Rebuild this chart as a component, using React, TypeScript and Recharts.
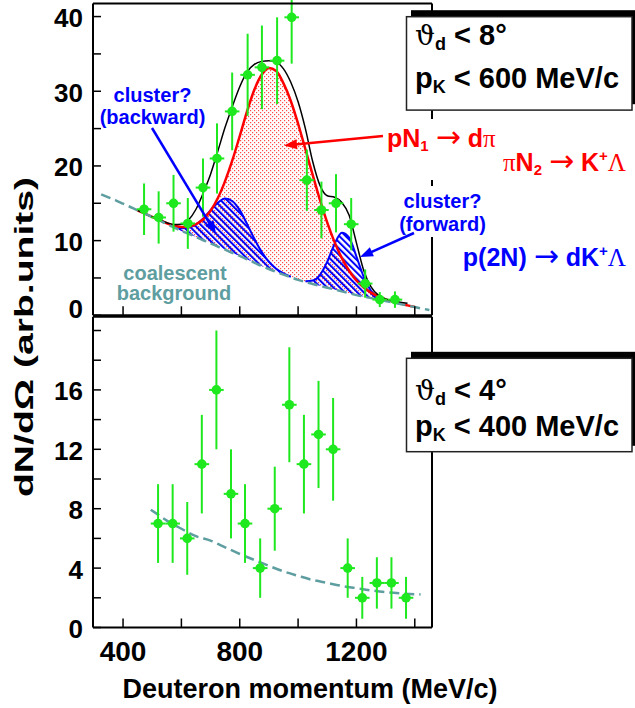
import React from 'react';
import { ComposedChart, Area, Line, Scatter, XAxis, YAxis, ErrorBar } from 'recharts';

const SANS = '"Liberation Sans", Arial, Helvetica, sans-serif';
const SERIF = '"DejaVu Serif", "Liberation Serif", serif';
const SYM = '"Liberation Serif", "DejaVu Serif", serif';
const ARROWFONT = '"DejaVu Sans", "Liberation Sans", sans-serif';

const GREEN = '#1ee81e';
const TEAL = '#5f9ea0';
const RED = '#ff0000';
const BLUE = '#0000ff';

// ---------- axes ----------
const xDomain = [297, 1459];
const xTicks = [400, 600, 800, 1000, 1200, 1400];
const xTickLabels = [400, 800, 1200];
const upperYDomain = [0, 41.75];
const upperYTicks = [0, 5, 10, 15, 20, 25, 30, 35, 40];
const upperYLabels = [0, 10, 20, 30, 40];
const lowerYDomain = [0, 20.93];
const lowerYTicks = [0, 2, 4, 6, 8, 10, 12, 14, 16, 18, 20];
const lowerYLabels = [0, 4, 8, 12, 16];

const binHalfWidth = 25;

// ---------- upper panel: data points ----------
const upperMomentum = [472, 522, 573, 622, 674, 722, 774, 827, 876, 928, 978, 1030, 1080, 1130, 1182, 1230, 1280, 1332];
const upperCounts = [14.2, 13.1, 15.0, 12.3, 17.1, 21.0, 27.3, 32.2, 33.2, 34.1, 39.9, 18.1, 14.1, 15.0, 12.2, 4.25, 2.1, 2.1];
const upperErrors = [3.45, 3.5, 3.8, 3.4, 3.9, 4.7, 5.2, 5.5, 5.6, 5.8, 6.2, 4.1, 3.8, 3.9, 3.5, 1.9, 1.0, 1.1];

// ---------- upper panel: fitted curves ----------
const gridX = [325, 350, 375, 400, 425, 450, 475, 500, 525, 550, 575, 600, 625, 650, 675, 700, 725, 750, 775, 800,
  825, 850, 875, 900, 925, 950, 975, 1000, 1025, 1050, 1075, 1100, 1125, 1150, 1175, 1200, 1225, 1250, 1275, 1300,
  1325, 1350, 1375, 1400, 1425, 1450];
const coalescentBg = [16.2, 15.8, 15.4, 14.95, 14.5, 14.05, 13.6, 13.15, 12.7, 12.2, 11.75, 11.3, 10.9, 10.5, 10.05, 9.65,
  9.2, 8.8, 8.35, 7.95, 7.5, 7.05, 6.6, 6.2, 5.8, 5.45, 5.1, 4.75, 4.45, 4.2, 3.95, 3.7, 3.45, 3.2, 2.95, 2.7, 2.5, 2.3,
  2.1, 1.9, 1.7, 1.5, 1.3, 1.1, 0.9, 0.72];
const pN1Fit = [null, null, null, null, null,
  14.05, 13.61, 13.18, 12.76, 12.33, 12.02, 11.82, 11.86, 12.19, 12.86, 14.0, 15.7, 18.0, 20.8, 24.0,
  27.3, 30.2, 32.2, 33.1, 32.7, 31.05, 28.7, 25.65, 22.25, 18.8, 15.45, 12.4, 9.8, 7.66, 5.97, 4.66,
  3.72, 3.03, 2.52, 2.14, 1.83, 1.56, 1.33, 1.11, null, null];
const totalFit = [null, null, null, null, null,
  14.05, 13.61, 13.18, 12.8, 12.4, 12.16, 12.19, 12.8, 14.2, 16.4, 18.9, 22.0, 25.2, 28.0, 30.6,
  32.6, 33.6, 34.0, 34.1, 33.9, 33.0, 31.2, 28.6, 25.0, 20.6, 17.4, 16.0, 15.8, 15.1, 13.4, 9.7,
  6.0, 3.8, 2.7, 2.2, 1.95, 1.75, 1.6, null, null, null];
const backwardTop = [null, null, null, null, null, null, null, null, null, null,
  11.89, 11.67, 11.74, 12.17, 12.97, 14.08, 15.09, 15.63, 15.27, 14.08, 12.24, 10.25, 8.49, 7.17, 6.24, 5.62, 5.16,
  null, null, null, null, null, null, null, null, null, null, null, null, null, null, null, null, null, null, null];
const forwardTop = [null, null, null, null, null, null, null, null, null, null, null, null, null, null, null, null,
  null, null, null, null, null, null, null, null, null, null, null, null,
  4.55, 4.65, 5.41, 7.19, 9.56, 11.07, 10.4, 7.87, 5.14, 3.29, 2.37, 1.96,
  null, null, null, null, null, null];

// ---------- lower panel ----------
const lowerMomentum = [520, 570, 620, 670, 720, 770, 818, 870, 920, 970, 1020, 1070, 1120, 1170, 1220, 1270, 1320, 1370];
const lowerCounts = [7, 7, 6, 11, 16, 9, 7, 4, 8, 15, 11, 13, 12, 4, 2, 3, 3, 2];
const lowerErrors = [2.65, 2.65, 2.45, 3.32, 4.0, 3.0, 2.65, 2.0, 2.83, 3.87, 3.32, 3.61, 3.46, 2.0, 1.41, 1.73, 1.73, 1.41];
const lowerBgX = [495, 520, 550, 600, 650, 700, 750, 800, 850, 900, 950, 1000, 1050, 1100, 1150, 1200, 1250, 1300, 1350, 1400, 1420];
const lowerBg = [7.93, 7.6, 7.2, 6.65, 6.15, 5.85, 5.4, 4.95, 4.55, 4.15, 3.78, 3.48, 3.2, 3.0, 2.8, 2.65, 2.5, 2.38, 2.3, 2.24, 2.23];

// ---------- tables ----------
const upperRows = gridX.map((x, i) => ({
  x,
  bg: coalescentBg[i],
  red: pN1Fit[i],
  total: totalFit[i],
  back: backwardTop[i],
  fwd: forwardTop[i],
  pinkBand: pN1Fit[i] == null ? null : [coalescentBg[i], pN1Fit[i]],
  backBand: backwardTop[i] == null ? null : [coalescentBg[i], backwardTop[i]],
  fwdBand: forwardTop[i] == null ? null : [coalescentBg[i], forwardTop[i]],
}));
const upperPoints = upperMomentum.map((x, i) => ({ x, y: upperCounts[i], ey: upperErrors[i], ex: binHalfWidth }));
const lowerPoints = lowerMomentum.map((x, i) => ({ x, y: lowerCounts[i], ey: lowerErrors[i], ex: binHalfWidth }));
const lowerRows = lowerBgX.map((x, i) => ({ x, bg: lowerBg[i] }));

// ---------- tick renderers ----------
const makeXTick = (labels: number[]) => (props: any) => {
  const { x, y, payload } = props;
  return (
    <g>
      <line x1={x} x2={x} y1={y} y2={y - 9} stroke="#000" strokeWidth={1.5} />
      {labels.includes(payload.value) ? (
        <text x={x} y={y + 33} textAnchor="middle" fontFamily={SANS} fontWeight="bold" fontSize={28} fill="#000">
          {payload.value}
        </text>
      ) : null}
    </g>
  );
};
const makeYTick = (labels: number[], shift: Record<number, number>) => (props: any) => {
  const { x, y, payload } = props;
  const v = payload.value;
  const dy = shift[v] != null ? shift[v] : 10.5;
  return (
    <g>
      <line x1={x} x2={x + 8} y1={y} y2={y} stroke="#000" strokeWidth={1.5} />
      {labels.includes(v) ? (
        <text x={x - 10} y={y + dy} textAnchor="end" fontFamily={SANS} fontWeight="bold" fontSize={26} fill="#000">
          {v}
        </text>
      ) : null}
    </g>
  );
};
const emptyTick = () => <g />;
const dot = (p: any) => <circle cx={p.cx} cy={p.cy} r={4.8} fill={GREEN} />;

const axisLine = { stroke: '#000', strokeWidth: 2 };

function UpperChart() {
  return (
    <ComposedChart width={635} height={330} data={upperRows} margin={{ top: 2.5, right: 202, bottom: 13.7, left: 92 }}>
      <XAxis type="number" dataKey="x" domain={xDomain} allowDataOverflow ticks={xTicks} interval={0} height={1}
        tickSize={0} tickMargin={0} tickLine={false} axisLine={axisLine} tick={makeXTick([])} />
      <XAxis xAxisId="top" orientation="top" type="number" dataKey="x" domain={xDomain} allowDataOverflow height={1}
        tickLine={false} axisLine={axisLine} tick={emptyTick} />
      <YAxis type="number" domain={upperYDomain} allowDataOverflow ticks={upperYTicks} interval={0} width={1}
        tickSize={0} tickMargin={0} tickLine={false} axisLine={axisLine} tick={makeYTick(upperYLabels, { 0: 3 })} />
      <YAxis yAxisId="right" orientation="right" type="number" domain={upperYDomain} allowDataOverflow width={1}
        tickLine={false} axisLine={axisLine} tick={emptyTick} />
      <Area dataKey="pinkBand" type="monotone" fill="url(#pnDots)" fillOpacity={1} stroke="none" isAnimationActive={false} activeDot={false} />
      <Area dataKey="backBand" type="monotone" fill="url(#hatch)" fillOpacity={1} stroke="none" isAnimationActive={false} activeDot={false} />
      <Area dataKey="fwdBand" type="monotone" fill="url(#hatch)" fillOpacity={1} stroke="none" isAnimationActive={false} activeDot={false} />
      <Line dataKey="back" type="monotone" stroke={BLUE} strokeWidth={2} dot={false} activeDot={false} isAnimationActive={false} />
      <Line dataKey="fwd" type="monotone" stroke={BLUE} strokeWidth={2} dot={false} activeDot={false} isAnimationActive={false} />
      <Line dataKey="red" type="monotone" stroke={RED} strokeWidth={2.5} dot={false} activeDot={false} isAnimationActive={false} />
      <Line dataKey="total" type="monotone" stroke="#000" strokeWidth={1.5} dot={false} activeDot={false} isAnimationActive={false} />
      <Line dataKey="bg" type="monotone" stroke={TEAL} strokeWidth={2.5} strokeDasharray="10 5" dot={false} activeDot={false} isAnimationActive={false} />
      <Scatter data={upperPoints} dataKey="y" shape={dot} isAnimationActive={false}>
        <ErrorBar dataKey="ey" direction="y" width={0} stroke={GREEN} strokeWidth={2} />
        <ErrorBar dataKey="ex" direction="x" width={0} stroke={GREEN} strokeWidth={2} />
      </Scatter>
    </ComposedChart>
  );
}

function LowerChart() {
  return (
    <ComposedChart width={635} height={408} data={lowerRows} margin={{ top: 15.7, right: 202, bottom: 79.5, left: 92 }}>
      <XAxis type="number" dataKey="x" domain={xDomain} allowDataOverflow ticks={xTicks} interval={0} height={1}
        tickSize={0} tickMargin={0} tickLine={false} axisLine={axisLine} tick={makeXTick(xTickLabels)} />
      <XAxis xAxisId="top" orientation="top" type="number" dataKey="x" domain={xDomain} allowDataOverflow height={1}
        tickLine={false} axisLine={axisLine} tick={emptyTick} />
      <YAxis type="number" domain={lowerYDomain} allowDataOverflow ticks={lowerYTicks} interval={0} width={1}
        tickSize={0} tickMargin={0} tickLine={false} axisLine={axisLine} tick={makeYTick(lowerYLabels, {})} />
      <YAxis yAxisId="right" orientation="right" type="number" domain={lowerYDomain} allowDataOverflow width={1}
        tickLine={false} axisLine={axisLine} tick={emptyTick} />
      <Line dataKey="bg" type="monotone" stroke={TEAL} strokeWidth={2.5} strokeDasharray="10 5" dot={false} activeDot={false} isAnimationActive={false} />
      <Scatter data={lowerPoints} dataKey="y" shape={dot} isAnimationActive={false}>
        <ErrorBar dataKey="ey" direction="y" width={0} stroke={GREEN} strokeWidth={2} />
        <ErrorBar dataKey="ex" direction="x" width={0} stroke={GREEN} strokeWidth={2} />
      </Scatter>
    </ComposedChart>
  );
}

function Arrow({ x1, y1, x2, y2, color, w = 2.5, head = 13, half = 5 }: any) {
  const dx = x2 - x1;
  const dy = y2 - y1;
  const len = Math.hypot(dx, dy);
  const ux = dx / len;
  const uy = dy / len;
  const bx = x2 - ux * head;
  const by = y2 - uy * head;
  const nx = -uy * half;
  const ny = ux * half;
  return (
    <g>
      <line x1={x1} y1={y1} x2={bx + ux * 2} y2={by + uy * 2} stroke={color} strokeWidth={w} />
      <polygon points={`${x2},${y2} ${bx + nx},${by + ny} ${bx - nx},${by - ny}`} fill={color} />
    </g>
  );
}

function InfoBox({ top, angle, pmax, l1, l2 }: any) {
  return (
    <g>
      <rect x={411} y={top - 6.5} width={226} height={94} fill="#000" />
      <rect x={406.5} y={top} width={225.5} height={93.4} fill="#fff" stroke="#222" strokeWidth={1.5} />
      <text x={415} y={l1} fontFamily={SANS} fontWeight="bold" fontSize={29} fill="#000">
        <tspan fontFamily={SERIF} fontWeight="normal" fontSize={28}>{'\u03D1'}</tspan>
        <tspan fontSize={18} dy={5}>d</tspan>
        <tspan dy={-5}>{` < ${angle}\u00B0`}</tspan>
      </text>
      <text x={415} y={l2} fontFamily={SANS} fontWeight="bold" fontSize={29} fill="#000">
        <tspan>p</tspan>
        <tspan fontSize={18} dy={5}>K</tspan>
        <tspan dy={-5}>{` < ${pmax} MeV/c`}</tspan>
      </text>
    </g>
  );
}

function Overlay() {
  const lab = { fontFamily: SANS, fontWeight: 'bold' as const };
  const arrowGlyph = (
    <tspan fontFamily={ARROWFONT} fontWeight="normal" fontSize={30}>{'\u2192'}</tspan>
  );
  return (
    <svg width={635} height={708} style={{ position: 'absolute', left: 0, top: 0 }}>
      {/* white backgrounds that interrupt the right frame */}
      <rect x={424} y={119} width={16} height={61} fill="#fff" />
      <rect x={424} y={186} width={16} height={51} fill="#fff" />

      <InfoBox top={16.7} angle={8} pmax={600} l1={45} l2={88} />
      <InfoBox top={358.3} angle={4} pmax={400} l1={400} l2={436} />

      {/* reaction labels */}
      <text x={387} y={147} fill={RED} {...lab} fontSize={25}>
        pN<tspan fontSize={15} dy={4}>1</tspan>
        <tspan dy={-4}>{' '}</tspan>
        {arrowGlyph}
        <tspan>{' d'}</tspan>
        <tspan fontFamily={SYM} fontWeight="normal">{'\u03C0'}</tspan>
      </text>
      <text x={626} y={171} fill={RED} {...lab} fontSize={25} textAnchor="end">
        <tspan fontFamily={SYM} fontWeight="normal">{'\u03C0'}</tspan>
        <tspan>N</tspan>
        <tspan fontSize={15} dy={4}>2</tspan>
        <tspan dy={-4}>{' '}</tspan>
        {arrowGlyph}
        <tspan>{' K'}</tspan>
        <tspan fontSize={15} dy={-10}>+</tspan>
        <tspan dy={10} fontFamily={SYM} fontWeight="normal">{'\u039B'}</tspan>
      </text>
      <text x={626} y={266} fill={BLUE} {...lab} fontSize={25} textAnchor="end">
        <tspan>{'p(2N) '}</tspan>
        {arrowGlyph}
        <tspan>{' dK'}</tspan>
        <tspan fontSize={15} dy={-10}>+</tspan>
        <tspan dy={10} fontFamily={SYM} fontWeight="normal">{'\u039B'}</tspan>
      </text>

      <text x={152.5} y={102} fill={BLUE} {...lab} fontSize={20} textAnchor="middle">cluster?</text>
      <text x={152.5} y={124} fill={BLUE} {...lab} fontSize={20} textAnchor="middle">(backward)</text>
      <text x={442.5} y={208} fill={BLUE} {...lab} fontSize={20} textAnchor="middle">cluster?</text>
      <text x={442.5} y={231} fill={BLUE} {...lab} fontSize={20} textAnchor="middle">(forward)</text>
      <text x={175} y={280} fill={TEAL} {...lab} fontSize={20} textAnchor="middle">coalescent</text>
      <text x={174} y={300} fill={TEAL} {...lab} fontSize={20} textAnchor="middle">background</text>

      <Arrow x1={383} y1={136} x2={284} y2={145.5} color={RED} w={2.5} />
      <Arrow x1={152} y1={128} x2={216} y2={234} color={BLUE} w={2.5} />
      <Arrow x1={414} y1={233} x2={360} y2={257} color={BLUE} w={2.5} />

      {/* axis titles */}
      <text x={310} y={698} {...lab} fontSize={27} textAnchor="middle" fill="#000">Deuteron momentum (MeV/c)</text>
      <text transform="translate(33,337) rotate(-90)" {...lab} fontSize={26} textAnchor="middle" fill="#000"
        textLength={320} lengthAdjust="spacingAndGlyphs">
        dN/d{'\u03A9'} (arb.units)
      </text>
    </svg>
  );
}

export default function App() {
  return (
    <div style={{ position: 'absolute', left: 0, top: 0, width: 635, height: 708, background: '#fff', overflow: 'hidden' }}>
      <svg width={0} height={0} style={{ position: 'absolute' }}>
        <defs>
          <pattern id="pnDots" patternUnits="userSpaceOnUse" width="4" height="4">
            <rect x="0" y="0" width="4" height="4" fill="#fff" />
            <rect x="0" y="0" width="1.2" height="1.2" fill="#ff4a4a" />
            <rect x="2" y="2" width="1.2" height="1.2" fill="#ff4a4a" />
          </pattern>
          <pattern id="hatch" patternUnits="userSpaceOnUse" width="4.5" height="4.5" patternTransform="rotate(-45)">
            <rect x="0" y="0" width="2" height="4.5" fill={BLUE} />
          </pattern>
        </defs>
      </svg>
      <div style={{ position: 'absolute', left: 0, top: 0 }}>
        <UpperChart />
      </div>
      <div style={{ position: 'absolute', left: 0, top: 300 }}>
        <LowerChart />
      </div>
      <Overlay />
    </div>
  );
}
